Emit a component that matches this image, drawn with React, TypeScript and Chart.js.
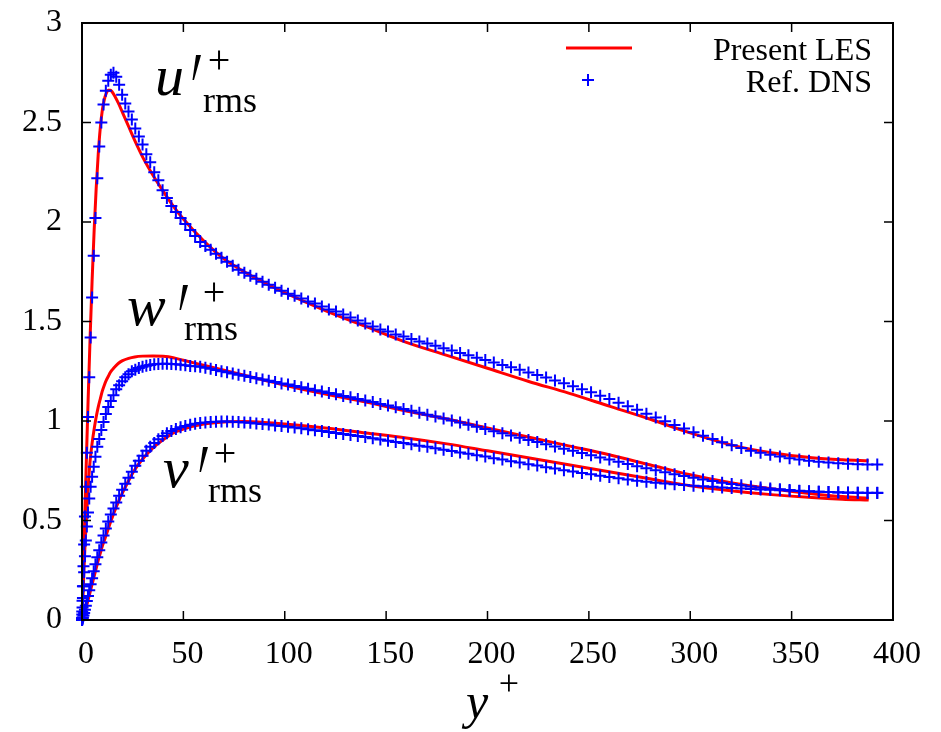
import React, { useEffect, useRef } from 'react';
import { Chart, registerables } from 'chart.js';

Chart.register(...registerables);

// ---------- data ----------
const X_TICKS = [0, 50, 100, 150, 200, 250, 300, 350, 400];
const Y_TICKS = [0, 0.5, 1, 1.5, 2, 2.5, 3];
const LEGEND_LABELS = ['Present LES', 'Ref. DNS'];

// Reference DNS (y+ positions)
const dnsYplus = [0, 0.03, 0.12, 0.27, 0.47, 0.74, 1.06, 1.45, 1.89, 2.39, 2.95, 3.57, 4.25, 4.98, 5.78, 6.63, 7.54, 8.51, 9.53, 10.62, 11.76, 12.95, 14.21, 15.52, 16.89, 18.32, 19.80, 21.34, 22.93, 24.58,
  26.28, 28.04, 29.86, 31.73, 33.65, 35.63, 37.66, 39.74, 41.88, 44.07, 46.31, 48.61, 50.96, 53.36, 55.80,
  58.30, 60.85, 63.45, 66.10, 68.80, 71.55, 74.35, 77.19, 80.08, 83.02, 86.00, 89.03, 92.11, 95.23, 98.40,
  101.61, 104.86, 108.16, 111.50, 114.89, 118.31, 121.77, 125.28, 128.83, 132.42, 136.04, 139.71, 143.41, 147.15, 150.93,
  154.74, 158.58, 162.47, 166.39, 170.34, 174.33, 178.34, 182.39, 186.48, 190.59, 194.74, 198.91, 203.11, 207.34, 211.60,
  215.89, 220.20, 224.54, 228.90, 233.28, 237.70, 242.14, 246.59, 251.07, 255.58, 260.10, 264.64, 269.20, 273.78, 278.38,
  282.99, 287.62, 292.27, 296.94, 301.61, 306.30, 311.00, 315.71, 320.44, 325.18, 329.93, 334.68, 339.45, 344.22, 349.00,
  353.79, 358.58, 363.38, 368.19, 373.00, 377.81, 382.62, 387.43, 392.24];

const dnsU = [0, 0.011, 0.043, 0.097, 0.17, 0.27, 0.38, 0.52, 0.67, 0.84, 1.02, 1.22, 1.42, 1.62, 1.83, 2.02, 2.22, 2.38, 2.50, 2.59, 2.66, 2.71, 2.74, 2.75, 2.73, 2.69, 2.64, 2.595, 2.555, 2.515,
  2.47, 2.43, 2.39, 2.34, 2.30, 2.25, 2.21, 2.16, 2.12, 2.08, 2.05, 2.02, 1.99, 1.96, 1.93,
  1.90, 1.88, 1.86, 1.84, 1.82, 1.80, 1.78, 1.76, 1.745, 1.73, 1.715, 1.70, 1.685, 1.67, 1.655,
  1.64, 1.63, 1.615, 1.60, 1.59, 1.575, 1.56, 1.55, 1.535, 1.52, 1.505, 1.49, 1.475, 1.46, 1.45,
  1.435, 1.424, 1.412, 1.40, 1.39, 1.378, 1.366, 1.354, 1.342, 1.33, 1.318, 1.306, 1.294, 1.282, 1.27,
  1.257, 1.244, 1.231, 1.218, 1.204, 1.19, 1.175, 1.16, 1.144, 1.127, 1.11, 1.092, 1.074, 1.056, 1.037,
  1.018, 0.999, 0.98, 0.962, 0.944, 0.926, 0.909, 0.893, 0.878, 0.864, 0.851, 0.84, 0.83, 0.821, 0.813,
  0.806, 0.80, 0.795, 0.791, 0.788, 0.785, 0.783, 0.782, 0.781];

const dnsW = [0, 0.007, 0.028, 0.063, 0.11, 0.17, 0.24, 0.32, 0.40, 0.47, 0.54, 0.61, 0.67, 0.72, 0.77, 0.82, 0.87, 0.91, 0.955, 0.995, 1.035, 1.07, 1.10, 1.13, 1.16, 1.18, 1.20, 1.22, 1.235, 1.25,
  1.258, 1.266, 1.273, 1.278, 1.282, 1.285, 1.287, 1.288, 1.288, 1.287, 1.285, 1.283, 1.28, 1.277, 1.275,
  1.272, 1.267, 1.262, 1.256, 1.25, 1.245, 1.239, 1.233, 1.227, 1.221, 1.215, 1.209, 1.202, 1.196, 1.189,
  1.183, 1.176, 1.169, 1.162, 1.155, 1.148, 1.141, 1.134, 1.126, 1.119, 1.111, 1.103, 1.095, 1.086, 1.078,
  1.069, 1.06, 1.051, 1.041, 1.032, 1.022, 1.012, 1.002, 0.992, 0.981, 0.971, 0.96, 0.949, 0.938, 0.927,
  0.916, 0.905, 0.894, 0.883, 0.872, 0.861, 0.85, 0.839, 0.828, 0.817, 0.806, 0.795, 0.784, 0.773, 0.763,
  0.753, 0.743, 0.733, 0.724, 0.715, 0.706, 0.698, 0.69, 0.683, 0.677, 0.671, 0.666, 0.661, 0.657, 0.653,
  0.65, 0.647, 0.645, 0.643, 0.641, 0.64, 0.639, 0.638, 0.638];

const dnsV = [0, 0, 0.002, 0.006, 0.012, 0.022, 0.035, 0.052, 0.072, 0.095, 0.12, 0.15, 0.18, 0.21, 0.245, 0.28, 0.315, 0.35, 0.39, 0.425, 0.46, 0.495, 0.53, 0.56, 0.59, 0.625, 0.655, 0.685, 0.715, 0.745,
  0.775, 0.80, 0.825, 0.85, 0.87, 0.89, 0.908, 0.925, 0.938, 0.95, 0.96, 0.968, 0.975, 0.981, 0.986,
  0.99, 0.993, 0.995, 0.996, 0.997, 0.997, 0.996, 0.995, 0.993, 0.991, 0.988, 0.985, 0.982, 0.978, 0.975,
  0.971, 0.967, 0.963, 0.959, 0.954, 0.95, 0.945, 0.94, 0.935, 0.93, 0.925, 0.919, 0.913, 0.907, 0.901,
  0.895, 0.889, 0.883, 0.876, 0.87, 0.863, 0.856, 0.849, 0.842, 0.835, 0.828, 0.821, 0.813, 0.806, 0.798,
  0.791, 0.783, 0.776, 0.768, 0.761, 0.753, 0.746, 0.739, 0.732, 0.725, 0.718, 0.712, 0.706, 0.70, 0.695,
  0.69, 0.686, 0.682, 0.678, 0.675, 0.672, 0.669, 0.666, 0.663, 0.661, 0.658, 0.656, 0.654, 0.652, 0.65,
  0.648, 0.646, 0.645, 0.643, 0.642, 0.641, 0.64, 0.64, 0.64];

// Present LES
const lesYplus = [0, 0.5, 1, 1.5, 2, 3, 4, 5, 6, 7, 8, 9, 10, 11, 12, 13, 14, 15, 16, 18, 20, 23, 26, 30, 35, 40, 45, 50, 60, 70, 80, 90, 100, 120, 140, 160, 180, 200, 220, 240, 260, 280, 300, 320, 340, 360, 375, 388];
const lesU = [0, 0.19, 0.38, 0.57, 0.75, 1.10, 1.42, 1.71, 1.96, 2.17, 2.34, 2.47, 2.56, 2.615, 2.648, 2.662, 2.662, 2.652, 2.636, 2.596, 2.55, 2.48, 2.41, 2.325, 2.235, 2.155, 2.08, 2.015, 1.905, 1.815, 1.75, 1.695, 1.645, 1.555, 1.475, 1.395, 1.33, 1.265, 1.20, 1.14, 1.075, 1.01, 0.94, 0.88, 0.84, 0.815, 0.805, 0.80];
const lesW = [0, 0.13, 0.26, 0.38, 0.48, 0.66, 0.80, 0.89, 0.96, 1.02, 1.07, 1.11, 1.15, 1.18, 1.205, 1.225, 1.245, 1.258, 1.27, 1.29, 1.303, 1.315, 1.322, 1.326, 1.327, 1.325, 1.318, 1.305, 1.28, 1.255, 1.23, 1.205, 1.18, 1.135, 1.095, 1.05, 1.01, 0.965, 0.92, 0.875, 0.83, 0.78, 0.73, 0.69, 0.66, 0.635, 0.62, 0.612];
const lesV = [0, 0.005, 0.02, 0.04, 0.06, 0.10, 0.14, 0.18, 0.22, 0.26, 0.30, 0.335, 0.37, 0.40, 0.43, 0.46, 0.49, 0.518, 0.545, 0.595, 0.64, 0.70, 0.755, 0.81, 0.865, 0.905, 0.94, 0.96, 0.985, 0.995, 0.997, 0.993, 0.985, 0.965, 0.94, 0.915, 0.885, 0.85, 0.815, 0.78, 0.745, 0.71, 0.675, 0.65, 0.63, 0.615, 0.607, 0.603];

// ---------- styles ----------
const RED = '#ff0000';
const BLUE = '#0000ff';
const SERIF = '"Liberation Serif", "Times New Roman", serif';

const zip = (xs: number[], ys: number[]) => xs.map((x, i) => ({ x, y: ys[i] }));

function drawPrime(ctx: CanvasRenderingContext2D, x: number, y: number, h: number) {
  // tapered stroke, thick at top
  ctx.beginPath();
  ctx.moveTo(x + 4, y);
  ctx.lineTo(x + 9, y);
  ctx.lineTo(x + 2, y + h);
  ctx.lineTo(x + 0.5, y + h);
  ctx.closePath();
  ctx.fill();
}

function drawMathLabel(ctx: CanvasRenderingContext2D, letter: string, lx: number, base: number,
  primeX: number, plusX: number, plusY: number, rmsX: number, rmsBase: number) {
  ctx.fillStyle = '#000';
  ctx.textAlign = 'left';
  ctx.textBaseline = 'alphabetic';
  ctx.font = `italic 58px ${SERIF}`;
  ctx.fillText(letter, lx, base);
  drawPrime(ctx, primeX, base - 40, 25);
  ctx.font = `40px ${SERIF}`;
  ctx.textAlign = 'center';
  ctx.textBaseline = 'middle';
  ctx.fillText('+', plusX, plusY);
  ctx.textAlign = 'left';
  ctx.textBaseline = 'alphabetic';
  ctx.font = `36px ${SERIF}`;
  ctx.fillText('rms', rmsX, rmsBase);
}

const decorPlugin = {
  id: 'decor',
  afterDatasetsDraw(chart: any) {
    const { ctx, chartArea, scales } = chart;
    const { left, right, top, bottom } = chartArea;
    const xs = scales.x;
    const ys = scales.y;
    ctx.save();
    // frame
    ctx.strokeStyle = '#000';
    ctx.lineWidth = 2;
    ctx.strokeRect(left, top, right - left, bottom - top);
    // inward ticks on all four sides
    ctx.lineWidth = 1.5;
    ctx.beginPath();
    for (const v of X_TICKS) {
      const px = xs.getPixelForValue(v);
      ctx.moveTo(px, bottom); ctx.lineTo(px, bottom - 9);
      ctx.moveTo(px, top); ctx.lineTo(px, top + 9);
    }
    for (const v of Y_TICKS) {
      const py = ys.getPixelForValue(v);
      ctx.moveTo(left, py); ctx.lineTo(left + 9, py);
      ctx.moveTo(right, py); ctx.lineTo(right - 9, py);
    }
    ctx.stroke();

    // legend
    ctx.font = `32px ${SERIF}`;
    ctx.fillStyle = '#000';
    ctx.textAlign = 'right';
    ctx.textBaseline = 'alphabetic';
    ctx.fillText(LEGEND_LABELS[0], 872, 60);
    ctx.fillText(LEGEND_LABELS[1], 872, 92);
    ctx.strokeStyle = RED;
    ctx.lineWidth = 3;
    ctx.beginPath();
    ctx.moveTo(566, 48); ctx.lineTo(632, 48);
    ctx.stroke();
    ctx.strokeStyle = BLUE;
    ctx.lineWidth = 2;
    ctx.beginPath();
    ctx.moveTo(582, 80); ctx.lineTo(594, 80);
    ctx.moveTo(588, 74); ctx.lineTo(588, 86);
    ctx.stroke();

    // curve labels
    drawMathLabel(ctx, 'u', 155, 95, 192, 219, 62, 203, 112);
    drawMathLabel(ctx, 'w', 127, 325, 179, 214, 294, 184, 340);
    drawMathLabel(ctx, 'v', 163, 487, 199, 225, 455, 208, 502);

    // x-axis title  y^+
    ctx.fillStyle = '#000';
    ctx.textAlign = 'left';
    ctx.textBaseline = 'alphabetic';
    ctx.font = `italic 50px ${SERIF}`;
    ctx.fillText('y', 466, 718);
    ctx.font = `36px ${SERIF}`;
    ctx.textAlign = 'center';
    ctx.textBaseline = 'middle';
    ctx.fillText('+', 509, 686);
    ctx.restore();
  },
};

export default function App() {
  const ref = useRef<HTMLCanvasElement | null>(null);

  useEffect(() => {
    document.body.style.margin = '0';
    const canvas = ref.current;
    if (!canvas) return;
    Chart.defaults.font.family = SERIF;

    const dnsStyle = {
      showLine: false,
      pointStyle: 'cross',
      pointRadius: 6,
      pointBorderWidth: 2,
      borderColor: BLUE,
      backgroundColor: BLUE,
      pointBorderColor: BLUE,
      order: 0,
      clip: false,
    };
    const lesStyle = {
      showLine: true,
      pointRadius: 0,
      borderColor: RED,
      backgroundColor: RED,
      borderWidth: 3,
      cubicInterpolationMode: 'monotone',
      order: 1,
      clip: false,
    };

    const chart = new Chart(canvas, {
      type: 'scatter',
      data: {
        datasets: [
          { label: 'DNS u', data: zip(dnsYplus, dnsU), ...dnsStyle },
          { label: 'DNS w', data: zip(dnsYplus, dnsW), ...dnsStyle },
          { label: 'DNS v', data: zip(dnsYplus, dnsV), ...dnsStyle },
          { label: 'LES u', data: zip(lesYplus, lesU), ...lesStyle },
          { label: 'LES w', data: zip(lesYplus, lesW), ...lesStyle },
          { label: 'LES v', data: zip(lesYplus, lesV), ...lesStyle },
        ] as any,
      },
      options: {
        animation: false,
        responsive: false,
        devicePixelRatio: 1,
        layout: { autoPadding: false, padding: { left: 0, top: 23, right: 48, bottom: 0 } },
        plugins: { legend: { display: false }, tooltip: { enabled: false } },
        scales: {
          x: {
            type: 'linear',
            min: 0,
            max: 400,
            grid: { display: false, drawTicks: false },
            border: { display: false },
            afterFit: (s: any) => { s.height = 112; s.paddingLeft = 0; s.paddingRight = 0; },
            afterBuildTicks: (s: any) => { s.ticks = X_TICKS.map((v) => ({ value: v })); },
            ticks: {
              color: '#000',
              font: { size: 32, family: SERIF },
              padding: 15,
              labelOffset: 4,
              maxRotation: 0,
              autoSkip: false,
              callback: (v: any) => String(v),
            },
          },
          y: {
            type: 'linear',
            min: 0,
            max: 3,
            grid: { display: false, drawTicks: false },
            border: { display: false },
            afterFit: (s: any) => { s.width = 82; s.paddingTop = 0; s.paddingBottom = 0; },
            afterBuildTicks: (s: any) => { s.ticks = Y_TICKS.map((v) => ({ value: v })); },
            ticks: {
              color: '#000',
              font: { size: 32, family: SERIF },
              padding: 20,
              autoSkip: false,
              callback: (v: any) => String(v),
            },
          },
        },
      } as any,
      plugins: [decorPlugin],
    });
    return () => chart.destroy();
  }, []);

  return (
    <div style={{ width: 941, height: 732, background: '#fff' }}>
      <canvas ref={ref} width={941} height={732} style={{ display: 'block', width: 941, height: 732 }} />
    </div>
  );
}
